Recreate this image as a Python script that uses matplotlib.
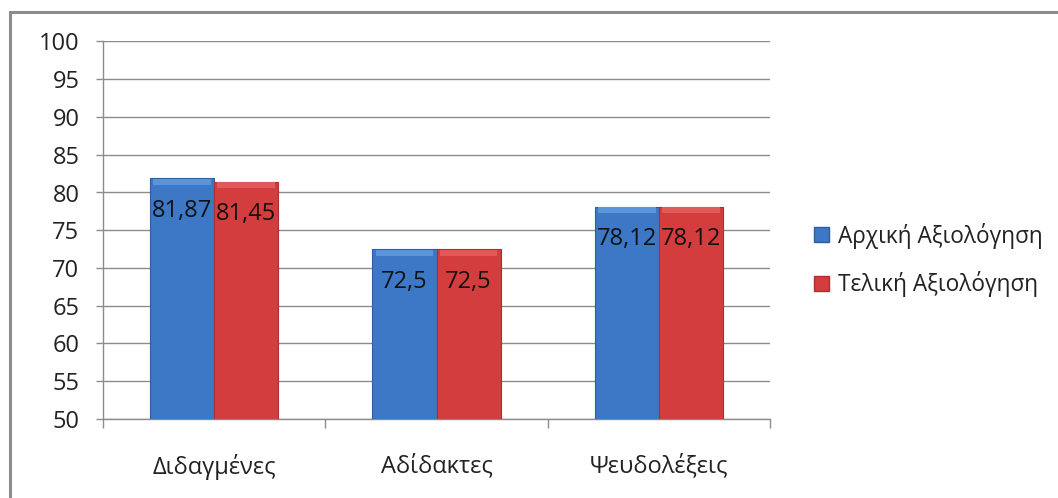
import matplotlib
matplotlib.use("Agg")
import matplotlib.pyplot as plt
import numpy as np
from matplotlib.patches import Rectangle, Patch

categories = ["Διδαγμένες", "Αδίδακτες", "Ψευδολέξεις"]
series_names = ["Αρχική Αξιολόγηση", "Τελική Αξιολόγηση"]
initial = [81.87, 72.5, 78.12]
final = [81.45, 72.5, 78.12]
initial_labels = ["81,87", "72,5", "78,12"]
final_labels = ["81,45", "72,5", "78,12"]
yticks = list(range(50, 101, 5))

plt.rcParams['font.family'] = ['Open Sans', 'DejaVu Sans']

W, H = 1058, 498
fig = plt.figure(figsize=(W / 100, H / 100), dpi=100)
fig.patch.set_facecolor('white')

# outer frame (top and left visible)
fig.patches.append(Rectangle((9.5 / W, -0.2), 1.5, 1.2 - 11.5 / H,
                             transform=fig.transFigure, fill=False,
                             edgecolor='#8c8c8c', linewidth=2.2, zorder=0))

ax = fig.add_axes([103 / W, 1 - 419 / H, (770 - 103) / W, (419 - 41.5) / H])
ax.set_facecolor('white')

x = np.arange(len(categories))
bw = 0.288
colors_main = ['#3c78c6', '#d43d3d']
colors_edge = ['#2d5e9e', '#a83030']
colors_top = ['#5a95dc', '#e05a5a']

for i, (vals, labs) in enumerate([(initial, initial_labels), (final, final_labels)]):
    xs = x + (i - 0.5) * bw
    ax.bar(xs, np.array(vals) - 50, bottom=50, width=bw, color=colors_main[i],
           edgecolor=colors_edge[i], linewidth=0.8, zorder=3)
    ax.bar(xs, [0.8] * len(vals), bottom=np.array(vals) - 0.85, width=bw * 0.9,
           color=colors_top[i], linewidth=0, zorder=4)
    for xx, v, lab in zip(xs, vals, labs):
        ax.text(xx, v - 4.3, lab, ha='center', va='center', fontsize=17,
                color='#111111', zorder=5)

ax.set_xlim(-0.5, len(categories) - 0.5)
ax.set_ylim(50, 100)
ax.set_yticks(yticks)
ax.set_yticklabels([str(t) for t in yticks], fontsize=17, color='#222222')
ax.set_xticks(x)
ax.set_xticklabels(categories, fontsize=17, color='#222222')
ax.set_xticks(np.arange(-0.5, len(categories)), minor=True)
ax.tick_params(axis='x', which='major', length=0, pad=25)
ax.tick_params(axis='x', which='minor', length=6.5, color='#8c8c8c', width=1)
ax.tick_params(axis='y', length=5, color='#8c8c8c', width=1, pad=12)

ax.grid(axis='y', color='#8c8c8c', linewidth=1, zorder=0)
ax.set_axisbelow(True)
for s in ['top', 'right']:
    ax.spines[s].set_visible(False)
for s in ['left', 'bottom']:
    ax.spines[s].set_color('#8c8c8c')
    ax.spines[s].set_linewidth(1)

handles = [Patch(facecolor=colors_main[i], edgecolor=colors_edge[i]) for i in range(2)]
leg = fig.legend(handles, series_names, loc='center left',
                 bbox_to_anchor=(803 / W, 1 - 260 / H), frameon=False,
                 fontsize=16.3, handlelength=0.65, handleheight=0.65,
                 handletextpad=0.4, labelspacing=1.0, borderpad=0)
for t in leg.get_texts():
    t.set_color('#222222')

fig.savefig('out.png', dpi=100)
